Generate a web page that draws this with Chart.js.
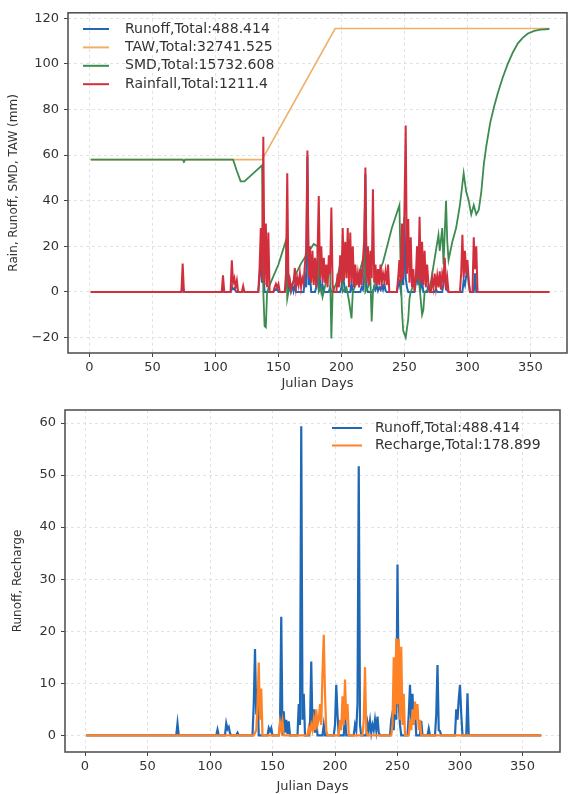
<!DOCTYPE html>
<html>
<head>
<meta charset="utf-8">
<script src="https://cdn.jsdelivr.net/npm/chart.js@4.4.1/dist/chart.umd.min.js"></script>
<style>
    html, body { margin: 0; padding: 0; background: #fff; }
    body { width: 571px; height: 794px; position: relative; overflow: hidden; }
    .box { position: absolute; left: 0; width: 571px; height: 397px; }
</style>
</head>
<body>
<div class="box" style="top:0"><canvas id="chart-water" width="571" height="397"></canvas></div>
<div class="box" style="top:397px"><canvas id="chart-recharge" width="571" height="397"></canvas></div>
<script>
/* ========================================
   Water balance: daily series, [julian day, mm]
   ======================================== */
const dayTicks = [0, 50, 100, 150, 200, 250, 300, 350];
const waterTicks = [-20, 0, 20, 40, 60, 80, 100, 120];
const rechargeTicks = [0, 10, 20, 30, 40, 50, 60];

const labels = {
    runoff: 'Runoff,Total:488.414',
    taw: 'TAW,Total:32741.525',
    smd: 'SMD,Total:15732.608',
    rain: 'Rainfall,Total:1211.4',
    recharge: 'Recharge,Total:178.899'
};

const taw = [[1,58],[137,58],[195,115.5],[365,115.5]];

const smd = [[1,58],[74,58],[75,57],[76,58],[114,58],[117,53],[120,48.5],[123,48.5],[130,52],[137,55.5],
    [138,0],[139,-15],[140,-15.5],[141,0],[143,3],[150,12],[156,22.6],[157,-3],[158,0],[161,3],[164,8],
    [168,12.5],[172,16],[178,21],[181,20],[182,0],[184,2],[185,-2.2],[186,0],[188,5],[191,10],[192,-20.4],
    [193,0],[196,4],[200,15],[201,0],[204,2],[206,-4],[208,-11.6],[209,0],[212,4],[216,12],[218,16],[219,0],
    [221,2],[223,5],[224,-13],[225,0],[228,6],[233,13],[240,28],[246,38],[247,10],[248,-8],[249,-17],
    [251,-20],[253,-12],[254,-3],[255,0],[258,4],[261,8],[262,2],[264,-10],[265,-8],[266,0],[270,1],
    [277,25],[278,18],[280,28],[281,12],[283,40],[284,22],[285,14],[288,22],[291,28],[294,38],[297,52],
    [299,44],[301,40],[303,34],[305,38],[307,34],[309,36],[311,44],[313,56],[315,64],[318,74],[321,81],
    [324,87],[328,94],[332,100],[336,105],[340,109],[344,111.5],[348,113.3],[353,114.5],[358,115],
    [365,115.3]];

const rainfall = [[1,0],[73,0],[74,12.4],[75,0],[105,0],[106,7.3],[107,0],[112,0],[113,13.9],[114,4],
    [115,6],[116,2],[117,5],[118,0],[121,0],[122,2.6],[123,0],[134,0],[135,10],[136,28],[137,5],[138,68],
    [139,3],[140,30],[141,2],[142,26],[143,0],[146,0],[147,2],[148,3.5],[149,2],[150,3.5],[151,0],[155,0],
    [156,8],[157,52],[158,2],[159,5],[160,1],[161,3.5],[162,4],[163,10.5],[164,2],[165,6],[166,3],[167,8],
    [168,2],[169,6],[170,4],[171,12],[172,18],[173,62],[174,6],[175,20],[176,4],[177,18],[178,3],[179,15],
    [180,2],[181,16],[182,42],[183,6],[184,20],[185,4],[186,15],[187,4],[188,12],[189,2],[190,16],[191,8],
    [192,37],[193,3],[194,0],[196,0],[197,8],[198,2],[199,16],[200,4],[201,28],[202,5],[203,22],[204,6],
    [205,28],[206,2],[207,26],[208,4],[209,20],[210,2],[211,12],[212,3],[213,8],[214,2],[215,10],[216,3],
    [217,14],[218,22],[219,54.5],[220,4],[221,20],[222,3],[223,18],[224,6],[225,45],[226,4],[227,12],
    [228,3],[229,10],[230,3],[231,12],[232,4],[233,8],[234,5],[235,9],[236,3],[237,12],[238,0],[244,0],
    [245,6],[246,14],[247,4],[248,30],[249,6],[250,36],[251,73],[252,8],[253,32],[254,4],[255,24],[256,2],
    [257,10],[258,0],[259,6],[260,20],[261,5],[262,33],[263,4],[264,22],[265,3],[266,18],[267,2],[268,12],
    [269,4],[270,0],[271,0],[272,6],[273,2],[274,8],[275,2],[276,7],[277,2],[278,9],[279,1],[280,8],[281,5],
    [282,15],[283,1],[284,6],[285,0],[294,0],[295,8],[296,25],[297,6],[298,18],[299,8],[300,14],[301,5],
    [302,0],[304,0],[305,24],[306,10],[307,20],[308,0],[365,0]];

const runoff = [[1,0],[73,0],[74,2.3],[75,0],[105,0],[106,1.1],[107,0],[112,0],[113,2.3],[114,1.2],
    [115,1.6],[116,0.4],[117,0],[121,0],[122,0.5],[123,0],[134,0],[135,6],[136,16.6],[137,4],[138,9],
    [139,0],[146,0],[147,1.4],[148,0.8],[149,1.4],[150,0],[155,0],[156,2],[157,22.8],[158,0],[159,4.6],
    [160,0.5],[161,3],[162,0.3],[163,2.7],[164,0],[170,0],[171,6],[172,2],[173,59.4],[174,3],[175,8],
    [176,0],[179,0],[180,2],[181,14.2],[182,1],[183,5],[184,0.5],[185,3],[186,0],[190,0],[191,2],[192,0],
    [199,0],[200,2],[201,9.7],[202,4],[203,0],[207,0],[208,4],[209,0],[215,0],[216,2],[217,1],[218,6],
    [219,51.7],[220,2],[221,0],[225,0],[226,2.4],[227,1],[228,2.8],[229,0.5],[230,2],[231,1],
    [232,3],[233,1],[234,3.6],[235,0.5],[236,0],[244,0],[245,3],[246,4.3],[247,1],[248,8],[249,3],
    [250,32.8],[251,6],[252,2],[253,0],[258,0],[259,4],[260,9.7],[261,3],[262,8],[263,2],[264,5],[265,0],
    [268,0],[269,2.8],[270,0],[274,0],[275,1.3],[276,0],[280,0],[281,4],[282,13.5],[283,1],[284,0.8],
    [285,0],[296,0],[297,5],[298,3],[299,7],[300,9.7],[301,4],[302,0],[305,0],[306,8.1],[307,0],[365,0]];

const recharge = [[1,0],[135,0],[137,1],[138,6],[139,14],[140,3],[141,9],[142,0],[155,0],[156,2.5],
    [157,1],[158,2.7],[159,0],[178,0],[179,1.5],[180,0.5],[181,2],[182,1],[183,3],[184,1],[185,5],[186,2],
    [187,3],[188,6],[189,2],[190,12],[191,19.3],[192,8],[193,1],[194,0],[203,0],[204,3],[205,1],[206,7.5],
    [207,2],[208,10.7],[209,3],[210,6],[211,0],[222,0],[223,3],[224,13.1],[225,1],[226,0],[245,0],[246,2],
    [247,15],[248,4],[249,18.7],[250,6],[251,18.5],[252,3],[253,17],[254,2],[255,8],[256,0],[259,0],
    [260,3],[261,1],[262,5],[263,2],[264,6.5],[265,3],[266,6],[267,1],[268,3],[269,0],[365,0]];

const COLORS = { runoff: '#1f68b5', taw: '#efb06a', smd: '#3c8c50', rain: '#d22f3c', recharge: '#ff8326' };
const TEXT = '#333';

Chart.defaults.font.family = '"DejaVu Sans", sans-serif';

const pts = arr => arr.map(p => ({ x: p[0], y: p[1] }));
const minus = v => (v < 0 ? '\u2212' + Math.abs(v) : String(v));

// frame round the plot + legend drawn inside the axes, matplotlib style
const framePlugin = {
    id: 'frameLegend',
    afterDraw(chart, args, opts) {
        const { ctx, chartArea: a } = chart;
        ctx.save();
        ctx.strokeStyle = '#555';
        ctx.lineWidth = 1.6;
        ctx.strokeRect(a.left, a.top, a.right - a.left, a.bottom - a.top);
        ctx.font = opts.font;
        ctx.textBaseline = 'middle';
        chart.data.datasets.forEach((ds, i) => {
            const y = opts.y + i * opts.dy;
            ctx.strokeStyle = ds.borderColor;
            ctx.lineWidth = 2;
            ctx.beginPath();
            ctx.moveTo(opts.x, y);
            ctx.lineTo(opts.x + opts.len, y);
            ctx.stroke();
            ctx.fillStyle = TEXT;
            ctx.fillText(ds.label, opts.x + opts.len + opts.gap, y);
        });
        ctx.restore();
    }
};

function axisX(min, max, height, titlePad) {
    return {
        type: 'linear', min, max,
        afterBuildTicks: s => { s.ticks = dayTicks.map(v => ({ value: v })); },
        afterFit: s => { s.height = height; },
        grid: { color: '#e2e2e2', tickColor: '#444', tickLength: 4 },
        border: { display: false, dash: [3, 3] },
        ticks: { color: TEXT, font: { size: 13 }, padding: 3, maxRotation: 0, callback: minus },
        title: { display: true, text: 'Julian Days', color: TEXT, font: { size: 13 }, padding: { top: 0, bottom: titlePad } }
    };
}

function axisY(min, max, ticks, width, title, titlePad) {
    return {
        type: 'linear', min, max,
        afterBuildTicks: s => { s.ticks = ticks.map(v => ({ value: v })); },
        afterFit: s => { s.width = width; },
        grid: { color: '#e2e2e2', tickColor: '#444', tickLength: 4 },
        border: { display: false, dash: [3, 3] },
        ticks: { color: TEXT, font: { size: 13 }, padding: 5, callback: minus },
        title: { display: true, text: title, color: TEXT, font: { size: 12 }, padding: { top: titlePad, bottom: 0 } }
    };
}

function line(label, data, color, order, width) {
    return { label, data: pts(data), borderColor: color, backgroundColor: color, borderWidth: width,
        pointRadius: 0, tension: 0, fill: false, order };
}

new Chart(document.getElementById('chart-water'), {
    type: 'line',
    data: {
        datasets: [
            line(labels.runoff, runoff, COLORS.runoff, 4, 2),
            line(labels.taw, taw, COLORS.taw, 3, 1.6),
            line(labels.smd, smd, COLORS.smd, 2, 1.8),
            line(labels.rain, rainfall, COLORS.rain, 1, 2)
        ]
    },
    options: {
        responsive: false, animation: false, events: [],
        layout: { padding: { top: 12, right: 4, left: 0, bottom: 0 } },
        scales: {
            x: axisX(-17, 379, 44, 6),
            y: axisY(-26.8, 122.4, waterTicks, 68, 'Rain, Runoff, SMD, TAW (mm)', 7)
        },
        plugins: {
            legend: { display: false }, tooltip: { enabled: false },
            frameLegend: { x: 83, y: 29, dy: 18.4, len: 26, gap: 16, font: '14px "DejaVu Sans"' }
        }
    },
    plugins: [framePlugin]
});

new Chart(document.getElementById('chart-recharge'), {
    type: 'line',
    data: {
        datasets: [
            line(labels.runoff, runoff, COLORS.runoff, 2, 2.2),
            line(labels.recharge, recharge, COLORS.recharge, 1, 2.2)
        ]
    },
    options: {
        responsive: false, animation: false, events: [],
        layout: { padding: { top: 13, right: 11, left: 0, bottom: 0 } },
        scales: {
            x: axisX(-16, 380, 42, 0),
            y: axisY(-3.2, 62.5, rechargeTicks, 65, 'Runoff, Recharge', 11)
        },
        plugins: {
            legend: { display: false }, tooltip: { enabled: false },
            frameLegend: { x: 332, y: 31, dy: 17.5, len: 30, gap: 13, font: '14px "DejaVu Sans"' }
        }
    },
    plugins: [framePlugin]
});
</script>
</body>
</html>
